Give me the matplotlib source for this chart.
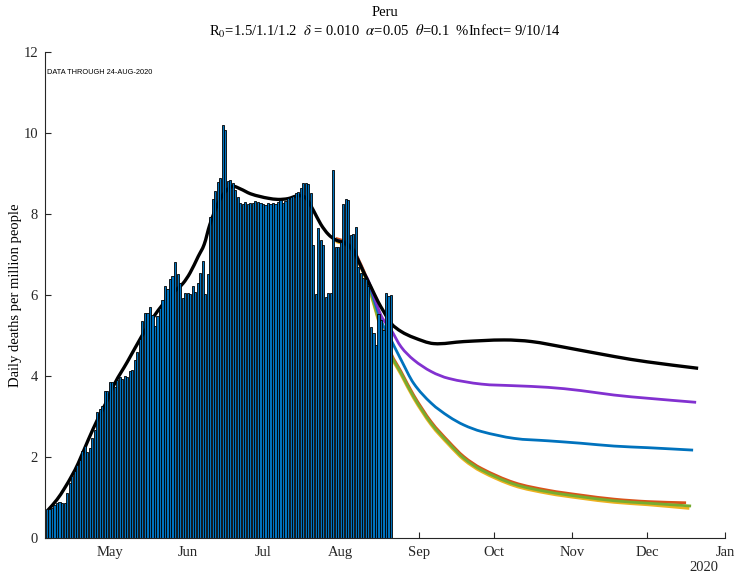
import matplotlib

matplotlib.use("Agg")
import matplotlib.pyplot as plt
from matplotlib.path import Path
from matplotlib.patches import PathPatch

plt.rcParams["font.family"] = ["Liberation Serif", "DejaVu Serif"]
plt.rcParams["mathtext.fontset"] = "stix"

# day numbers counted from 1 Jan 2020 = 0
first_bar_day = 96
daily_deaths = [
    0.71, 0.71, 0.73, 0.81, 0.86, 0.88, 0.87, 0.86, 1.10, 1.35,
    1.53, 1.65, 1.80, 1.93, 2.16, 2.28, 2.13, 2.21, 2.46, 2.67,
    3.12, 3.18, 3.26, 3.63, 3.64, 3.84, 3.84, 3.74, 3.90, 3.97,
    3.93, 4.00, 3.98, 4.12, 4.16, 4.40, 4.60, 4.91, 5.37, 5.55,
    5.55, 5.71, 5.51, 5.24, 5.47, 5.67, 5.88, 6.22, 6.16, 6.39,
    6.48, 6.81, 6.52, 6.29, 5.92, 6.04, 6.04, 6.02, 6.21, 6.08,
    6.29, 6.55, 6.85, 6.02, 6.53, 7.93, 8.36, 8.57, 8.80, 8.90,
    10.20, 10.07, 8.81, 8.84, 8.77, 8.59, 8.43, 8.28, 8.25, 8.29,
    8.24, 8.26, 8.28, 8.33, 8.29, 8.26, 8.24, 8.22, 8.26, 8.24,
    8.26, 8.25, 8.30, 8.35, 8.26, 8.33, 8.39, 8.41, 8.44, 8.53,
    8.55, 8.65, 8.76, 8.76, 8.74, 8.51, 7.23, 6.02, 7.65, 7.36,
    7.23, 5.96, 6.04, 6.04, 9.09, 7.18, 7.19, 7.32, 8.24, 8.36,
    8.35, 7.48, 7.51, 7.67, 6.70, 6.55, 6.41, 6.39, 6.21, 5.20,
    5.05, 4.77, 5.53, 5.38, 5.14, 6.04, 5.98, 6.00,
]
bar_days = [first_bar_day + i for i in range(len(daily_deaths))]

fit_days = [96.4, 100, 103, 106, 108.4, 112.4, 116.3, 120, 123, 128,
            133.6, 139, 143.6, 147, 150.2, 153, 156.2, 158.6, 160.8, 164,
            167, 170, 173, 177, 181, 184, 188, 192, 196, 199,
            202, 205, 208, 211, 214.6, 218, 220.2, 222.2, 225, 227.8,
            230, 233, 237, 242, 250, 262, 278, 289, 302, 322,
            335, 355.3]
fit_vals = [0.69, 0.95, 1.23, 1.55, 1.84, 2.42, 2.95, 3.40, 3.82, 4.35,
            4.97, 5.51, 5.88, 6.10, 6.29, 6.55, 6.95, 7.25, 7.73, 8.25,
            8.55, 8.68, 8.62, 8.50, 8.43, 8.39, 8.36, 8.38, 8.45, 8.40,
            8.10, 7.75, 7.50, 7.36, 7.28, 7.10, 6.82, 6.55, 6.20, 5.84,
            5.60, 5.30, 5.10, 4.95, 4.80, 4.85, 4.89, 4.85, 4.71, 4.48,
            4.35, 4.19]

purple_days = [211, 214.6, 218, 220.2, 222.2, 224, 229, 233, 237, 242,
               249, 256, 269, 282, 295.5, 308.6, 321.8, 335.3, 354.5]
purple_vals = [7.36, 7.28, 7.10, 6.82, 6.55, 6.35, 5.50, 5.14, 4.72, 4.40,
               4.11, 3.94, 3.80, 3.76, 3.72, 3.64, 3.53, 3.45, 3.35]

blue_days = [211, 214.6, 218, 220.2, 222.2, 224, 229, 233, 237, 242,
             249, 256, 262, 269, 282, 295.5, 308.6, 321.8, 335.3, 353.3]
blue_vals = [7.36, 7.28, 7.10, 6.82, 6.55, 6.30, 5.38, 4.89, 4.40, 3.82,
             3.33, 3.00, 2.79, 2.63, 2.46, 2.40, 2.34, 2.27, 2.23, 2.17]

green_days = [211, 214.6, 218, 220.2, 222.2, 224, 229, 233, 237, 242,
              249, 256, 262, 269, 282, 295.5, 308.6, 321.8, 335.3, 352.5]
green_vals = [7.36, 7.28, 7.10, 6.82, 6.55, 6.25, 5.20, 4.52, 4.07, 3.49,
              2.83, 2.34, 1.97, 1.68, 1.33, 1.14, 1.02, 0.92, 0.86, 0.79]
orange_days = green_days[:-1] + [350.5]
orange_vals = [v + 0.04 for v in green_vals[:-1]] + [0.87]
yellow_days = green_days[:-1] + [351.8]
yellow_vals = [v - 0.04 for v in green_vals[:-1]] + [0.73]

month_days = [121, 152, 182, 213, 244, 274, 305, 335, 366]
month_labels = ["May", "Jun", "Jul", "Aug", "Sep", "Oct", "Nov", "Dec", "Jan"]


def smooth_curve(ax, xs, ys, color, lw):
    # cubic Hermite through the read points, drawn as a bezier path
    n = len(xs)
    slopes = []
    for i in range(n):
        a = max(i - 1, 0)
        b = min(i + 1, n - 1)
        slopes.append((ys[b] - ys[a]) / (xs[b] - xs[a]))
    verts = [(xs[0], ys[0])]
    codes = [Path.MOVETO]
    for i in range(n - 1):
        dx = (xs[i + 1] - xs[i]) / 3
        verts += [(xs[i] + dx, ys[i] + slopes[i] * dx),
                  (xs[i + 1] - dx, ys[i + 1] - slopes[i + 1] * dx),
                  (xs[i + 1], ys[i + 1])]
        codes += [Path.CURVE4] * 3
    patch = PathPatch(Path(verts, codes), facecolor="none", edgecolor=color,
                      lw=lw, capstyle="butt", joinstyle="round", zorder=1)
    ax.add_patch(patch)


fig = plt.figure(figsize=(7.37, 5.75), dpi=100)
ax = fig.add_axes([45 / 737, 37 / 575, 680 / 737, 486 / 575])

smooth_curve(ax, orange_days, orange_vals, "#D95319", 2.0)
smooth_curve(ax, yellow_days, yellow_vals, "#EDB120", 2.0)
smooth_curve(ax, green_days, green_vals, "#77AC30", 2.0)
smooth_curve(ax, blue_days, blue_vals, "#0072BD", 2.0)
smooth_curve(ax, purple_days, purple_vals, "#8231D0", 2.0)
smooth_curve(ax, fit_days, fit_vals, "black", 2.4)

ax.bar(bar_days, daily_deaths, width=0.85, color="#0072BD",
       edgecolor="black", linewidth=0.6, zorder=2)

ax.set_xlim(95.2, 366)
ax.set_ylim(0, 12)
ax.set_xticks(month_days)
ax.set_xticklabels(month_labels)
ax.set_yticks([0, 2, 4, 6, 8, 10, 12])
ax.set_axisbelow(True)
for side in ("top", "right"):
    ax.spines[side].set_visible(False)
for side in ("left", "bottom"):
    ax.spines[side].set_color("#262626")
    ax.spines[side].set_linewidth(0.8)
ax.tick_params(direction="in", length=4, width=0.8, color="#262626",
               labelsize=10.5, labelcolor="#262626")
ax.tick_params(axis="x", pad=6)
ax.tick_params(axis="y", pad=5)

ax.text(0.003, 0.957, "DATA THROUGH 24-AUG-2020", transform=ax.transAxes,
        fontsize=5.3, family="Liberation Sans", ha="left", va="center")
ax.text(0.99, -0.06, "2020", transform=ax.transAxes, fontsize=10.5,
        ha="right", va="center", color="#262626")

fig.text(16 / 737, 1 - 295 / 575, "Daily deaths per million people",
         rotation=90, ha="center", va="center", fontsize=10.5)
fig.text(385 / 737, 1 - 13 / 575, "Peru", ha="center", va="center",
         fontsize=10.5)
fig.text(385 / 737, 1 - 31 / 575,
         r"R$_0$=1.5/1.1/1.2  $\delta$ = 0.010  $\alpha$=0.05  "
         r"$\theta$=0.1  %Infect= 9/10/14",
         ha="center", va="center", fontsize=10.5)

fig.savefig("out.png", dpi=100)
